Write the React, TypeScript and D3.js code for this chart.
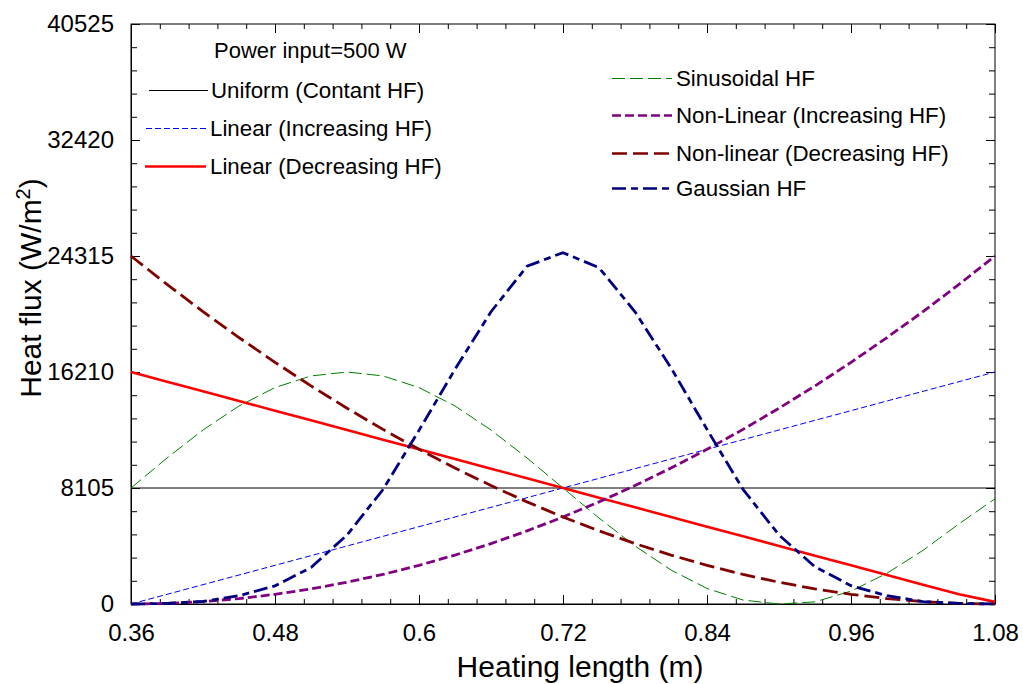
import React, { useRef, useEffect } from "react";
import * as d3 from "d3";

// heating length positions (m)
const xs = [
  0.36, 0.39, 0.42, 0.45, 0.48, 0.51, 0.54, 0.57, 0.6, 0.63, 0.66, 0.69, 0.72,
  0.75, 0.78, 0.81, 0.84, 0.87, 0.9, 0.93, 0.96, 0.99, 1.02, 1.05, 1.08,
];

const uniformHF = [
  8105, 8105, 8105, 8105, 8105, 8105, 8105, 8105, 8105, 8105, 8105, 8105, 8105,
  8105, 8105, 8105, 8105, 8105, 8105, 8105, 8105, 8105, 8105, 8105, 8105,
];
const linearIncHF = [
  0, 675, 1351, 2026, 2702, 3377, 4053, 4728, 5403, 6079, 6754, 7430, 8105,
  8780, 9456, 10131, 10807, 11482, 12158, 12833, 13508, 14184, 14859, 15535, 16210,
];
const linearDecHF = [
  16210, 15535, 14859, 14184, 13508, 12833, 12158, 11482, 10807, 10131, 9456,
  8780, 8105, 7430, 6754, 6079, 5403, 4728, 4053, 3377, 2702, 2026, 1351, 675, 150,
];
const sinusoidalHF = [
  8105, 10203, 12158, 13836, 15124, 15934, 16210, 15934, 15124, 13836, 12158,
  10203, 8105, 6007, 4053, 2374, 1086, 276, 0, 150, 900, 2150, 3750, 5600, 7350,
];
const nonLinIncHF = [
  0, 42, 169, 380, 675, 1055, 1520, 2068, 2702, 3419, 4221, 5107, 6079, 7134,
  8274, 9497, 10807, 12199, 13677, 15238, 16885, 18616, 20430, 22330, 24315,
];
const nonLinDecHF = [
  24315, 22330, 20430, 18616, 16885, 15238, 13677, 12199, 10807, 9497, 8274,
  7134, 6079, 5107, 4221, 3419, 2702, 2068, 1520, 1055, 675, 380, 169, 42, 0,
];
const gaussianHF = [
  0, 40, 180, 580, 1270, 2550, 4820, 8000, 12130, 16400, 20420, 23600, 24550,
  23500, 20420, 16500, 12200, 8010, 4820, 2600, 1280, 580, 170, 40, 0,
];

const xTicks = [0.36, 0.48, 0.6, 0.72, 0.84, 0.96, 1.08];
const xTickLabels = ["0.36", "0.48", "0.6", "0.72", "0.84", "0.96", "1.08"];
const yTicks = [0, 8105, 16210, 24315, 32420, 40525];

const series = [
  { name: "Uniform (Contant HF)", values: uniformHF, color: "#000000", width: 1, dash: null },
  { name: "Linear (Increasing HF)", values: linearIncHF, color: "#0000ff", width: 1, dash: "6,3" },
  { name: "Linear (Decreasing HF)", values: linearDecHF, color: "#ff0000", width: 2.6, dash: null },
  { name: "Sinusoidal HF", values: sinusoidalHF, color: "#008000", width: 1, dash: "13,5" },
  { name: "Non-Linear (Increasing HF)", values: nonLinIncHF, color: "#800080", width: 2.8, dash: "9,4" },
  { name: "Non-linear (Decreasing HF)", values: nonLinDecHF, color: "#800000", width: 2.8, dash: "15,6" },
  { name: "Gaussian HF", values: gaussianHF, color: "#000080", width: 2.8, dash: "14,5,7,5" },
];

// legend placement: [line x0, line x1, text x, y]
const legendPos = [
  [149, 208, 211, 90],
  [146, 206, 210, 128],
  [145, 206, 210, 166],
  [612, 672, 676, 78],
  [612, 672, 676, 115],
  [612, 672, 676, 153],
  [612, 672, 676, 188],
];

const FONT = "'Liberation Sans', Arial, sans-serif";

const App = () => {
  const ref = useRef(null);

  useEffect(() => {
    const svg = d3.select(ref.current);
    svg.selectAll("*").remove();

    const W = 1023;
    const H = 684;
    const left = 131;
    const right = 995;
    const top = 24;
    const bottom = 604;

    svg.attr("width", W).attr("height", H);
    svg.append("rect").attr("width", W).attr("height", H).attr("fill", "#fff");

    const x = d3.scaleLinear().domain([0.36, 1.08]).range([left, right]);
    const y = d3.scaleLinear().domain([0, 40525]).range([bottom, top]);

    const xMinor = d3.range(0, 31).map((i) => 0.36 + i * 0.024);
    const yMinor = d3.range(0, 26).map((i) => i * 1621);

    const styleAxis = (g) => {
      g.selectAll("path").attr("stroke", "#000").attr("stroke-width", 1);
      g.selectAll("line").attr("stroke", "#000").attr("stroke-width", 1);
      g.selectAll("text")
        .attr("font-family", FONT)
        .attr("font-size", 24)
        .attr("fill", "#000");
    };

    // minor ticks (all four sides)
    const mk = (gen, tx, ty) =>
      svg
        .append("g")
        .attr("transform", `translate(${tx},${ty})`)
        .call(gen.tickSizeOuter(0).tickFormat(() => ""))
        .call(styleAxis)
        .call((g) => g.select(".domain").remove());
    mk(d3.axisBottom(x).tickValues(xMinor).tickSizeInner(-5), 0, bottom);
    mk(d3.axisTop(x).tickValues(xMinor).tickSizeInner(-5), 0, top);
    mk(d3.axisLeft(y).tickValues(yMinor).tickSizeInner(-6), left, 0);
    mk(d3.axisRight(y).tickValues(yMinor).tickSizeInner(-6), right, 0);

    // major ticks
    svg
      .append("g")
      .attr("transform", `translate(0,${bottom})`)
      .call(
        d3
          .axisBottom(x)
          .tickValues(xTicks)
          .tickSizeInner(-9)
          .tickSizeOuter(0)
          .tickPadding(20)
          .tickFormat((d, i) => xTickLabels[i])
      )
      .call(styleAxis);
    svg
      .append("g")
      .attr("transform", `translate(${left},0)`)
      .call(
        d3
          .axisLeft(y)
          .tickValues(yTicks)
          .tickSizeInner(-9)
          .tickSizeOuter(0)
          .tickPadding(17)
          .tickFormat((d) => String(d))
      )
      .call(styleAxis);
    mk(d3.axisTop(x).tickValues(xTicks).tickSizeInner(-9), 0, top);
    mk(d3.axisRight(y).tickValues(yTicks).tickSizeInner(-9), right, 0);

    // frame
    svg
      .append("rect")
      .attr("x", left)
      .attr("y", top)
      .attr("width", right - left)
      .attr("height", bottom - top)
      .attr("fill", "none")
      .attr("stroke", "#000")
      .attr("stroke-width", 1);

    // series lines
    const line = d3
      .line()
      .x((d, i) => x(xs[i]))
      .y((d) => y(d));
    series.forEach((s) => {
      svg
        .append("path")
        .datum(s.values)
        .attr("d", line)
        .attr("fill", "none")
        .attr("stroke", s.color)
        .attr("stroke-width", s.width)
        .attr("stroke-dasharray", s.dash);
    });

    // legend
    svg
      .append("text")
      .attr("x", 214)
      .attr("y", 58)
      .attr("font-family", FONT)
      .attr("font-size", 22)
      .text("Power input=500 W");
    series.forEach((s, i) => {
      const [x0, x1, tx, ly] = legendPos[i];
      svg
        .append("line")
        .attr("x1", x0)
        .attr("x2", x1)
        .attr("y1", ly + 0.5)
        .attr("y2", ly + 0.5)
        .attr("stroke", s.color)
        .attr("stroke-width", s.width === 1 ? 1 : 2.5)
        .attr("stroke-dasharray", s.dash);
      svg
        .append("text")
        .attr("x", tx)
        .attr("y", ly + 8)
        .attr("font-family", FONT)
        .attr("font-size", 22.3)
        .text(s.name);
    });

    // axis titles
    svg
      .append("text")
      .attr("x", (left + right) / 2 + 17)
      .attr("y", 677)
      .attr("text-anchor", "middle")
      .attr("font-family", FONT)
      .attr("font-size", 30)
      .text("Heating length (m)");

    const yt = svg
      .append("text")
      .attr("transform", "translate(41,288) rotate(-90)")
      .attr("text-anchor", "middle")
      .attr("font-family", FONT)
      .attr("font-size", 30);
    yt.append("tspan").text("Heat flux (W/m");
    yt.append("tspan").attr("dy", -11).attr("font-size", 20).text("2");
    yt.append("tspan").attr("dy", 11).text(")");
  }, []);

  return (
    <svg
      ref={ref}
      style={{ display: "block", position: "absolute", left: 0, top: 0 }}
    />
  );
};

export default App;
